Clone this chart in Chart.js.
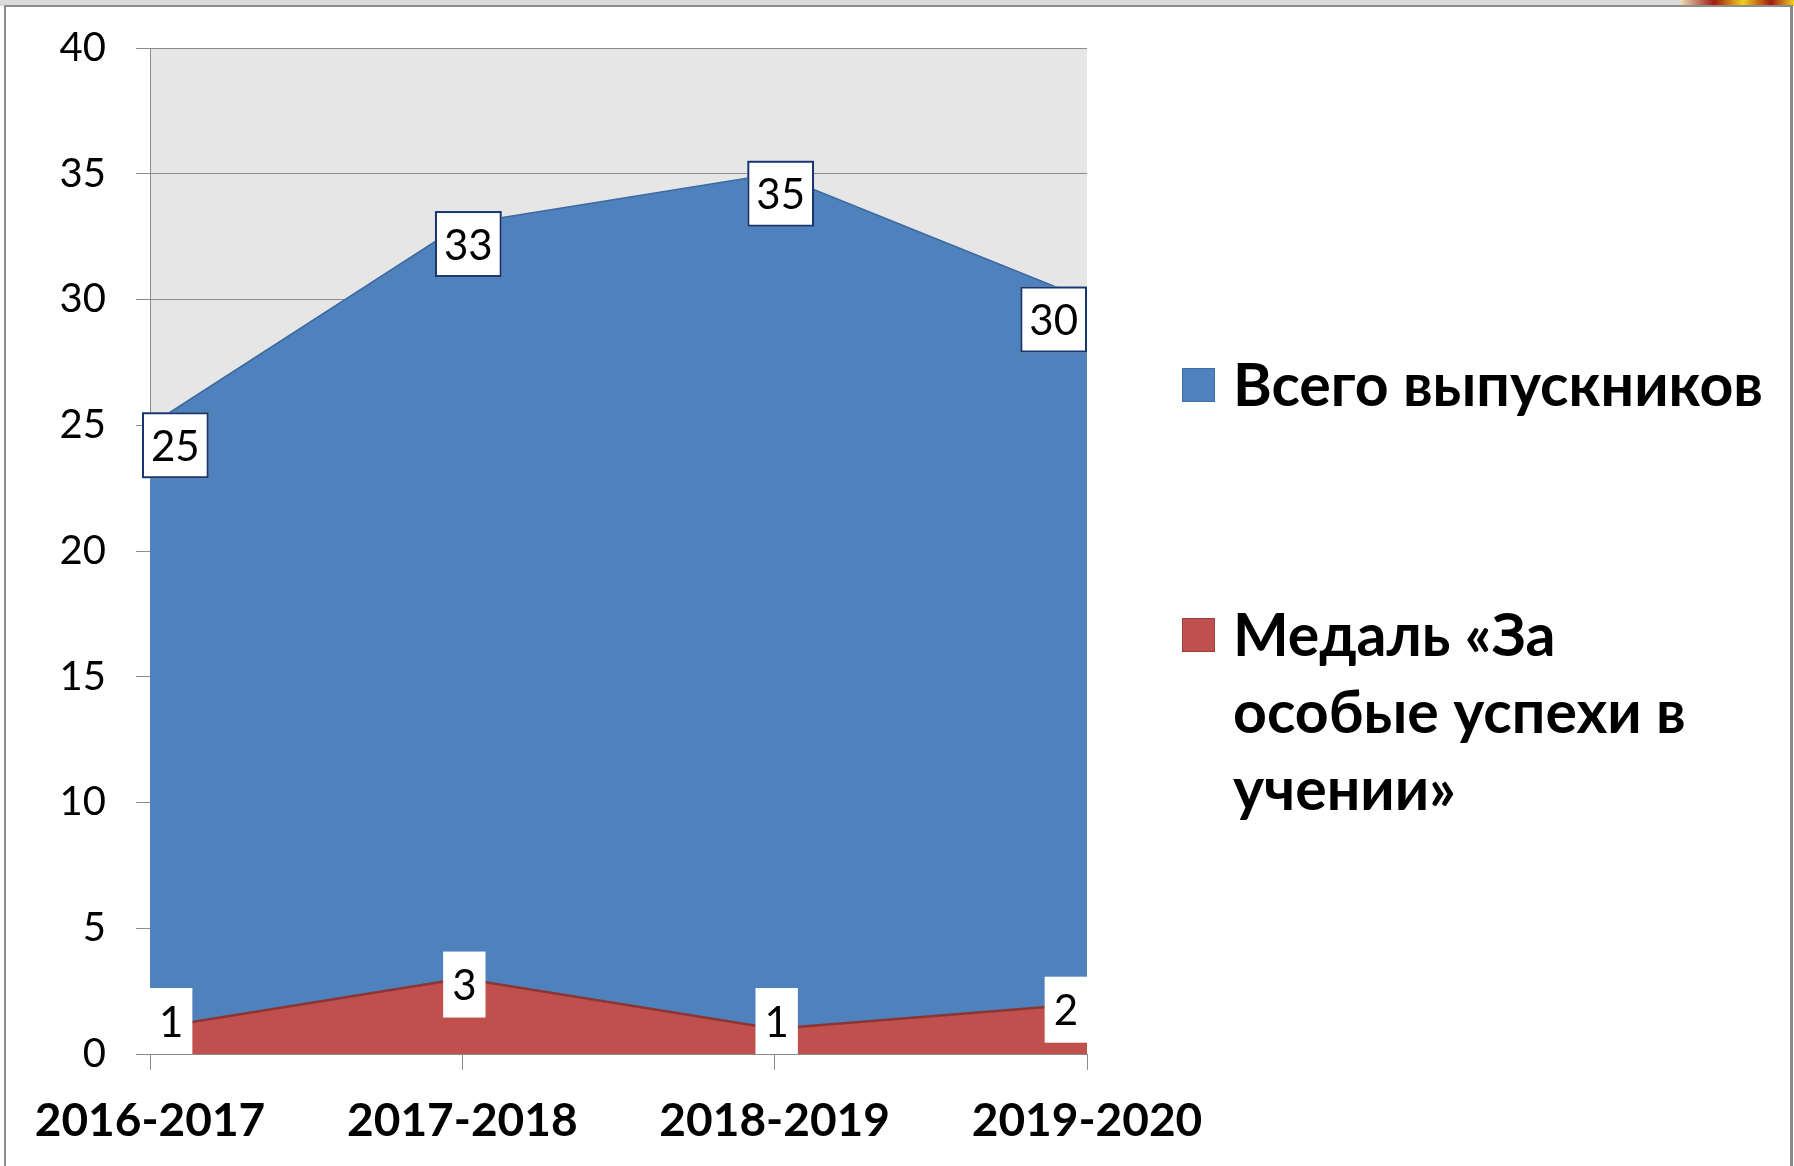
<!DOCTYPE html>
<html>
<head>
<meta charset="utf-8">
<script src="https://cdn.jsdelivr.net/npm/chart.js@4.4.1/dist/chart.umd.min.js"></script>
<style>
  html, body { margin: 0; padding: 0; background: #ffffff; width: 1794px; height: 1166px; overflow: hidden; }
  #topbar { position: absolute; left: 0; top: 0; width: 1794px; height: 6px; background: #dcdcdc; }
  #emblem { position: absolute; left: 1680px; top: 0; width: 114px; height: 6px;
            background: linear-gradient(90deg, #e8e0c0 0%, #a01c10 30%, #f0d020 55%, #a01c10 80%, #f0d020 100%); }
  #frame { position: absolute; left: 4px; top: 5px; width: 1784px; height: 1200px;
           border-left: 2px solid #8e8e8e; border-top: 2px solid #8e8e8e; border-right: 3px solid #8a8a8a; background: #ffffff; }
  #wrap { position: absolute; left: 0; top: 0; width: 1794px; height: 1166px; }
</style>
</head>
<body>
<div id="topbar"></div>
<div id="emblem"></div>
<div id="frame"></div>
<div id="wrap"><canvas id="c" width="1794" height="1166"></canvas></div>
<script>
// ---- data ----
const categories = ['2016-2017', '2017-2018', '2018-2019', '2019-2020'];
const totalGraduates = [25, 33, 35, 30];
const medalists = [1, 3, 1, 2];
const totalLabel = ['Всего выпускников'];
const medalLabel = ['Медаль «За', 'особые успехи в', 'учении»'];
const yTicks = [0, 5, 10, 15, 20, 25, 30, 35, 40];

const FONT = 'Lato, "Noto Sans", "Open Sans", sans-serif';
const BLUE = '#4f81bd';
const RED = '#c0504d';

const plotBg = {
  id: 'plotBg',
  beforeDraw(chart) {
    const a = chart.chartArea, ctx = chart.ctx;
    ctx.save();
    ctx.fillStyle = '#e6e6e6';
    ctx.fillRect(a.left, a.top, a.right - a.left, a.bottom - a.top);
    ctx.restore();
  }
};

const boxLabels = {
  id: 'boxLabels',
  afterDatasetsDraw(chart) {
    const ctx = chart.ctx, a = chart.chartArea;
    ctx.save();
    ctx.font = '42px ' + FONT;
    ctx.textAlign = 'center';
    ctx.textBaseline = 'middle';
    chart.data.datasets.forEach((ds, di) => {
      const meta = chart.getDatasetMeta(di);
      const opt = ds.boxLabel;
      meta.data.forEach((pt, i) => {
        const txt = String(ds.data[i]);
        const tw = ctx.measureText(txt).width;
        const w = tw + 18, h = 66;
        let cx = pt.x + opt.dx, cy = pt.y + opt.dy;
        let x = cx - w / 2, y = cy - h / 2;
        x = Math.max(a.left - opt.overhang, Math.min(x, a.right - w));
        y = Math.max(a.top, Math.min(y, a.bottom - h));
        ctx.fillStyle = '#ffffff';
        ctx.fillRect(x, y, w, h);
        if (opt.border) {
          ctx.strokeStyle = opt.border;
          ctx.lineWidth = 2;
          ctx.strokeRect(x + 1, y + 1, w - 2, h - 2);
        }
        ctx.fillStyle = '#000000';
        ctx.fillText(txt, x + w / 2, y + h / 2 + 2);
      });
    });
    ctx.restore();
  }
};

const sideLegend = {
  id: 'sideLegend',
  afterDraw(chart) {
    const ctx = chart.ctx;
    const items = [
      { color: BLUE, stroke: '#3f6ea8', lines: totalLabel, top: 368 },
      { color: RED, stroke: '#9c3f3c', lines: medalLabel, top: 618 }
    ];
    ctx.save();
    ctx.font = 'bold 59px ' + FONT;
    ctx.textBaseline = 'middle';
    ctx.textAlign = 'left';
    items.forEach(it => {
      ctx.fillStyle = it.color;
      ctx.fillRect(1182, it.top, 33, 34);
      ctx.strokeStyle = it.stroke;
      ctx.lineWidth = 1;
      ctx.strokeRect(1182.5, it.top + 0.5, 32, 33);
      ctx.fillStyle = '#000000';
      it.lines.forEach((ln, k) => {
        ctx.fillText(ln, 1233, it.top + 19 + k * 77);
      });
    });
    ctx.restore();
  }
};

new Chart(document.getElementById('c'), {
  type: 'line',
  data: {
    labels: categories,
    datasets: [
      {
        label: totalLabel.join(' '),
        data: totalGraduates,
        backgroundColor: BLUE,
        borderColor: '#3d6aa2',
        borderWidth: 1.5,
        fill: 'origin',
        pointRadius: 0,
        tension: 0,
        order: 2,
        boxLabel: { dx: 6, dy: 20, border: '#17356e', overhang: 8 }
      },
      {
        label: medalLabel.join(' '),
        data: medalists,
        backgroundColor: RED,
        borderColor: '#8c3532',
        borderWidth: 2.5,
        fill: 'origin',
        pointRadius: 0,
        tension: 0,
        order: 1,
        boxLabel: { dx: 2, dy: 6, border: null, overhang: 0 }
      }
    ]
  },
  options: {
    responsive: false,
    animation: false,
    devicePixelRatio: 1,
    layout: { padding: { top: 10, right: 707, left: 0, bottom: 0 } },
    plugins: {
      legend: { display: false },
      tooltip: { enabled: false }
    },
    scales: {
      x: {
        type: 'category',
        offset: false,
        afterFit(s) { s.height = 112; },
        grid: { drawOnChartArea: false, drawTicks: true, tickLength: 16, color: '#8c8c8c', lineWidth: 1 },
        border: { display: true, color: '#8c8c8c', width: 1 },
        ticks: { color: '#000000', font: { family: FONT, size: 46, weight: 'bold' }, padding: 24, maxRotation: 0, autoSkip: false }
      },
      y: {
        min: yTicks[0],
        max: yTicks[yTicks.length - 1],
        afterFit(s) { s.width = 150; },
        afterBuildTicks(s) { s.ticks = yTicks.map(v => ({ value: v })); },
        grid: { drawOnChartArea: true, drawTicks: true, tickLength: 14, color: '#8c8c8c', lineWidth: 1 },
        border: { display: true, color: '#8c8c8c', width: 1 },
        ticks: { color: '#000000', font: { family: FONT, size: 40, lineHeight: 0.9 }, padding: 30 }
      }
    }
  },
  plugins: [plotBg, boxLabels, sideLegend]
});
</script>
</body>
</html>
